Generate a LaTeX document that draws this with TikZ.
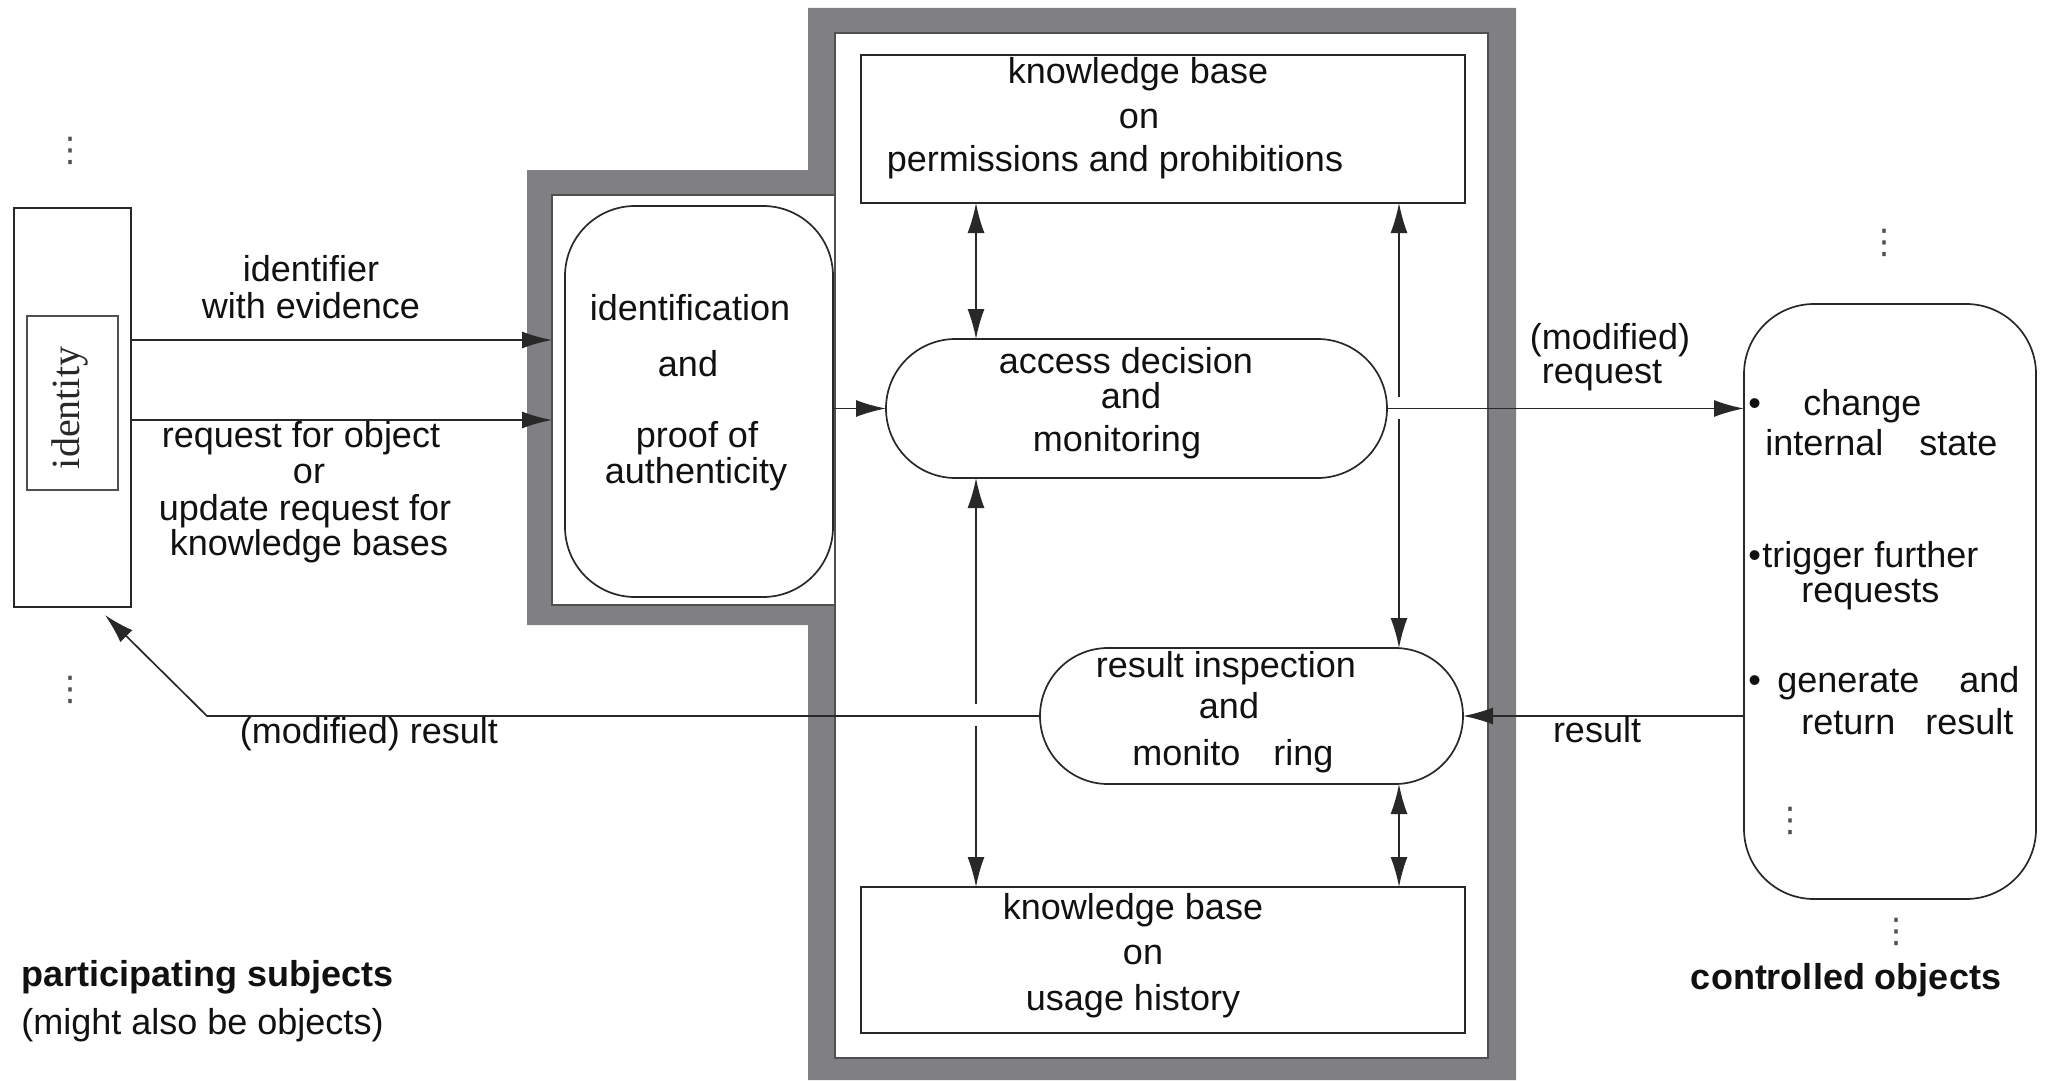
\documentclass[tikz,border=0pt]{standalone}
\usepackage{fontspec}
\setmainfont{Liberation Sans}
\newfontfamily\idserif{Liberation Serif}
\newfontfamily\symfont{DejaVu Sans}
\usetikzlibrary{arrows.meta,calc}
\definecolor{framegray}{RGB}{128,128,131}
\definecolor{edgegray}{RGB}{80,80,82}
\definecolor{linec}{RGB}{40,40,40}
\definecolor{inkc}{RGB}{17,17,17}

\begin{document}
\begin{tikzpicture}[x=0.5pt,y=-0.5pt,
  box/.style={draw=linec, line width=0.85pt, inner sep=0pt, outer sep=0pt},
  txt/.style={font=\fontsize{18}{20}\selectfont, text=inkc, inner sep=0pt,
              text height=16.6pt, text depth=3.8pt},
  boldtxt/.style={txt, font=\fontsize{18}{20}\selectfont\bfseries},
  conn/.style={draw=linec, line width=0.85pt, -{Latex[length=15pt,width=8.5pt]}},
  bothconn/.style={draw=linec, line width=0.85pt,
                   {Latex[length=15pt,width=8.5pt]}-{Latex[length=15pt,width=8.5pt]}},
  vdotsnode/.style={inner sep=0pt, text=edgegray, font=\symfont\fontsize{17}{20}\selectfont}
]
\useasboundingbox (0,0) rectangle (2045,1081);

% reference monitor enclosure: thick gray band round both compartments
\fill[framegray, even odd rule]
  (527,170) -- (808,170) -- (808,8) -- (1516,8) -- (1516,1080) -- (808,1080)
  -- (808,625) -- (527,625) -- cycle
  (552,195) -- (835,195) -- (835,33) -- (1488,33) -- (1488,1058) -- (835,1058)
  -- (835,605) -- (552,605) -- cycle;
\draw[edgegray, line width=0.6pt] (835,33) rectangle (1488,1058);
\draw[edgegray, line width=0.6pt] (552,195) rectangle (835,605);

% participating subject
\node[box, minimum width=58.5pt, minimum height=199.5pt] (subj) at (72.5,407.5) {};
\node[box, draw=edgegray, minimum width=45.5pt, minimum height=87pt] (idbox) at (72.5,403) {};
\node[rotate=90, inner sep=0pt, text=linec, font=\idserif\fontsize{20}{22}\selectfont]
  (idtext) at (70,408) {identity};

% processing components
\node[box, rounded corners=35pt, minimum width=134pt, minimum height=195.5pt] (ident) at (699,401.5) {};
\node[box, minimum width=302pt, minimum height=74pt] (kbt) at (1163,129) {};
\node[box, rounded corners=34.75pt, minimum width=250.5pt, minimum height=69.5pt] (access) at (1136.5,408.5) {};
\node[box, rounded corners=34pt, minimum width=211.5pt, minimum height=68pt] (result) at (1251.5,716) {};
\node[box, minimum width=302pt, minimum height=73pt] (kbb) at (1163,960) {};
\node[box, rounded corners=35pt, minimum width=146pt, minimum height=297.5pt] (objects) at (1890,601.5) {};

% helper coordinates for rows, columns and free ends
\coordinate (rowA) at (0,340);
\coordinate (rowB) at (0,420);
\coordinate (fin) at (552,0);
\coordinate (colL) at (976,0);
\coordinate (colR) at (1399,0);
\coordinate (gapRt) at (1399,397);
\coordinate (gapRb) at (1399,419);
\coordinate (gapLt) at (976,704);
\coordinate (gapLb) at (976,726);
\coordinate (bend) at (207,716);
\coordinate (rtip) at (105,615);

% connectors
\draw[conn] (subj.east |- rowA) -- (fin |- rowA);
\draw[conn] (subj.east |- rowB) -- (fin |- rowB);
\draw[conn] (ident.east |- access.west) -- (access.west);
\draw[bothconn] (kbt.south -| colL) -- (access.north -| colL);
\draw[conn] (access.east) -- (objects.west |- access.east);
\draw[conn] (gapRt) -- (kbt.south -| colR);
\draw[conn] (gapRb) -- (result.north -| colR);
\draw[conn] (gapLt) -- (access.south -| colL);
\draw[conn] (gapLb) -- (kbb.north -| colL);
\draw[conn] (objects.west |- result.east) -- (result.east);
\draw[conn] (result.west) -- (bend) -- (rtip);
\draw[bothconn] (result.south -| colR) -- (kbb.north -| colR);

% labels on the left
\node[txt] (lid1) at (311,269) {identifier};
\node[txt] (lid2) at (311,306) {with evidence};
\node[txt] (lrq1) at (301,435) {request for object};
\node[txt] (lrq2) at (309,471) {or};
\node[txt] (lrq3) at (305,508) {update request for};
\node[txt] (lrq4) at (309,543) {knowledge bases};

% identification text
\node[txt] (tid1) at (690,308) {identification};
\node[txt] (tid2) at (688,364) {and};
\node[txt] (tid3) at (697,435) {proof of};
\node[txt] (tid4) at (696,471) {authenticity};

% knowledge base on permissions
\node[txt] (tkt1) at (1138,71) {knowledge base};
\node[txt] (tkt2) at (1139,116) {on};
\node[txt] (tkt3) at (1115,159) {permissions and prohibitions};

% access decision
\node[txt] (tac1) at (1126,361) {access decision};
\node[txt] (tac2) at (1131,396) {and};
\node[txt] (tac3) at (1117,439) {monitoring};

% result inspection
\node[txt] (tre1) at (1226,665) {result inspection};
\node[txt] (tre2) at (1229,706) {and};
\node[txt] (tre3) at (1233,753) {monito\hspace{16.5pt}ring};

% knowledge base on usage history
\node[txt] (tkb1) at (1133,907) {knowledge base};
\node[txt] (tkb2) at (1143,952) {on};
\node[txt] (tkb3) at (1133,998) {usage history};

% flow labels
\node[txt] (lmr1) at (1610,337) {(modified)};
\node[txt] (lmr2) at (1602,371) {request};
\node[txt] (lres) at (1597,730) {result};
\node[txt] (lmres) at (369,731) {(modified) result};

% controlled object behaviour
\node[txt, anchor=west] (ob1) at (1748,403) {•};
\node[txt, anchor=west] (ob2) at (1803,403) {change};
\node[txt, anchor=west] (ob3) at (1765,443) {internal};
\node[txt, anchor=west] (ob4) at (1919,443) {state};
\node[txt, anchor=west] (ob5) at (1748,555) {•};
\node[txt, anchor=west] (ob6) at (1762,555) {trigger further};
\node[txt, anchor=west] (ob7) at (1801,590) {requests};
\node[txt, anchor=west] (ob8) at (1748,680) {•};
\node[txt, anchor=west] (ob9) at (1777,680) {generate};
\node[txt, anchor=west] (ob10) at (1959,680) {and};
\node[txt, anchor=west] (ob11) at (1801,722) {return};
\node[txt, anchor=west] (ob12) at (1925,722) {result};

% vertical ellipses
\node[vdotsnode] (dsa) at (71,151) {⋮};
\node[vdotsnode] (dsb) at (71,690) {⋮};
\node[vdotsnode] (doa) at (1884,243) {⋮};
\node[vdotsnode] (dob) at (1896,932) {⋮};
\node[vdotsnode] (doi) at (1790,821) {⋮};

% captions
\node[boldtxt, anchor=west] (capS) at (21,974) {participating subjects};
\node[txt, anchor=west] (capS2) at (21,1022) {(might also be objects)};
\node[boldtxt] (capO) at (1846,977) {controlled objects};
\end{tikzpicture}
\end{document}
